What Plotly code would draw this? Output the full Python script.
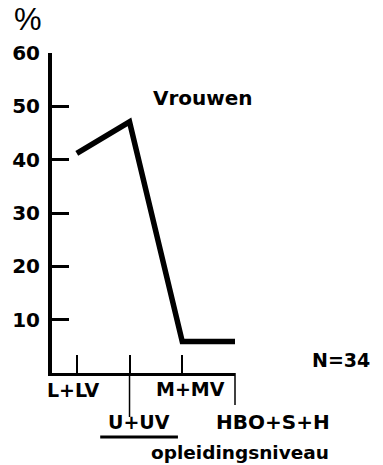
import plotly.graph_objects as go

# Opleidingsniveau categories and share of women (%) per level, N = 34
categories = ["L+LV", "U+UV", "M+MV", "HBO+S+H"]
percent = [41.2, 47.1, 5.9, 5.9]
y_ticks = [10, 20, 30, 40, 50, 60]
y_tick_labels = ["10", "20", "30", "40", "50", "60"]

FONT = "DejaVu Sans, Verdana, sans-serif"
x_range = [-0.47, 3.0]
idx = list(range(len(categories)))

fig = go.Figure()
fig.add_trace(go.Scatter(
    x=idx, y=percent, mode="lines",
    line=dict(color="black", width=5.5),
    hoverinfo="skip", showlegend=False,
))


def bold(s):
    return "<b>%s</b>" % s


fig.update_layout(
    width=383, height=465,
    margin=dict(l=49, r=148, t=53, b=92),
    paper_bgcolor="white", plot_bgcolor="white",
    font=dict(family=FONT, color="black"),
    xaxis=dict(
        range=x_range, showgrid=False, zeroline=False,
        showline=True, linecolor="black", linewidth=3,
        tickvals=idx, ticktext=[""] * len(idx),
        ticks="inside", ticklen=18, tickwidth=2, tickcolor="black",
    ),
    yaxis=dict(
        range=[0, 60], showgrid=False, zeroline=False,
        showline=True, linecolor="black", linewidth=4,
        tickvals=y_ticks, ticktext=[bold(t) for t in y_tick_labels],
        ticks="inside", ticklen=17, tickwidth=3, tickcolor="black",
        tickfont=dict(family=FONT, size=20, color="black"),
        ticklabelstandoff=4,
    ),
)


def paper_x(i):
    return (i - x_range[0]) / (x_range[1] - x_range[0])


# staggered category labels below the axis: (x shift px, y in paper units)
label_offsets = [(-3, -0.053), (9, -0.153), (8, -0.05), (38, -0.153)]
label_sizes = [19, 19, 19, 20]
for i, (name, (dx, yp), fs) in enumerate(zip(categories, label_offsets, label_sizes)):
    fig.add_annotation(
        x=i, xref="x", y=yp, yref="paper", xshift=dx,
        text=bold(name), showarrow=False, xanchor="center", yanchor="middle",
        font=dict(family=FONT, size=fs, color="black"),
    )

# long tick extensions for the lower row of labels
for i, y_end in [(1, -0.1375), (3, -0.1)]:
    fig.add_shape(type="line", xref="paper", yref="paper",
                  x0=paper_x(i), x1=paper_x(i), y0=0, y1=y_end,
                  line=dict(color="black", width=1.5))

# underline under U+UV
fig.add_shape(type="line", xref="paper", yref="paper",
              x0=paper_x(0.444), x1=paper_x(1.918), y0=-0.2, y1=-0.2,
              line=dict(color="black", width=3))

fig.add_annotation(x=paper_x(3.1), xref="paper", y=-0.247, yref="paper",
                   text=bold("opleidingsniveau"), showarrow=False,
                   xanchor="center", yanchor="middle",
                   font=dict(family=FONT, size=18.5, color="black"))

fig.add_annotation(x=-0.129, xref="paper", y=373 / 320, yref="paper",
                   text="%", showarrow=False, xanchor="center", yanchor="top",
                   font=dict(family="Liberation Sans Narrow, Arial Narrow, sans-serif",
                             size=31, color="black"))

fig.add_annotation(x=paper_x(1.41), xref="paper", y=0.86, yref="paper",
                   text=bold("Vrouwen"), showarrow=False, xanchor="left", yanchor="middle",
                   font=dict(family=FONT, size=20, color="black"))

fig.add_annotation(x=(343 - 49) / 186, xref="paper", y=0.04, yref="paper",
                   text=bold("N=34"), showarrow=False, xanchor="center", yanchor="middle",
                   font=dict(family=FONT, size=19, color="black"))

fig.write_html("out.html")
